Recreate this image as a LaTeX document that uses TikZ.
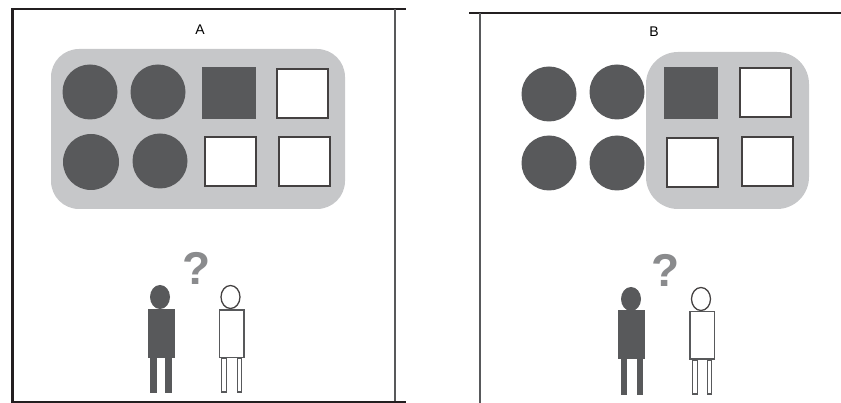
\documentclass[tikz,border=0pt]{standalone}
\usepackage{fontspec}
\setmainfont{Liberation Sans}
\usepackage{xcolor}
\definecolor{cDark}{HTML}{58595B}
\definecolor{cPanel}{HTML}{C6C7C9}
\definecolor{cAsk}{HTML}{8A8B8D}
\definecolor{cRule}{HTML}{231F20}
\usetikzlibrary{shapes.geometric}

\begin{document}
\begin{tikzpicture}[
  x=1pt,y=-1pt,
  font=\fontsize{14}{16}\selectfont,
  panelb/.style={fill=cPanel,rounded corners=#1,inner sep=0pt,outer sep=0pt},
  ball/.style={circle,fill=cDark,minimum size=55pt,inner sep=0pt,outer sep=0pt},
  tile/.style={rectangle,inner sep=0pt,outer sep=0pt,minimum width=#1},
  darkt/.style={tile=54pt,fill=cDark,minimum height=52pt},
  opent/.style={tile=51pt,fill=white,draw=cRule!85,line width=2pt,minimum height=49pt},
  headd/.style={ellipse,fill=cDark,minimum width=20pt,minimum height=24pt,inner sep=0pt,outer sep=0pt},
  heado/.style={ellipse,fill=white,draw=cRule!85,line width=1.3pt,minimum width=19pt,minimum height=23pt,inner sep=0pt,outer sep=0pt},
  bodyd/.style={tile=27pt,fill=cDark,minimum height=49pt},
  bodyo/.style={tile=24.5pt,fill=white,draw=cDark,line width=1.5pt,minimum height=47.5pt},
  legd/.style={tile=6.5pt,fill=cDark,minimum height=36pt},
  lego/.style={tile=4.5pt,fill=white,draw=cDark,line width=1.3pt,minimum height=34pt},
  ask/.style={font=\fontsize{46}{46}\selectfont\bfseries,text=cAsk,inner sep=0pt},
  frameline/.style={cRule,line width=2.2pt}]
\useasboundingbox (0,0) rectangle (841,403);
% left panel
\draw[frameline] (12.5,403) -- (12.5,9) -- (406,9);
\draw[frameline,cDark] (395,9) -- (395,402);
\draw[frameline] (12,402) -- (406,402);
\node (titleA) at (200,30) {A};
\node[panelb=28pt,minimum width=294pt,minimum height=160pt] (groupA) at (198,129) {};
\node[ball] (a1) at (90,92) {};
\node[ball] (a2) at (158,92) {};
\node[ball,minimum size=56pt] (a3) at (91,162) {};
\node[ball] (a4) at (160,161) {};
\node[darkt] (sa1) at (228.5,93) {};
\node[opent] (sa2) at (302.5,93.5) {};
\node[opent] (sa3) at (230.5,161.5) {};
\node[opent] (sa4) at (304.5,161.5) {};
\node[legd] (dla1) at (153.5,375) {};
\node[legd] (dla2) at (168.5,375) {};
\node[bodyd] (dbodyA) at (161.5,333.5) {};
\node[headd] (dheadA) at (160,297) {};
\node[lego] (ola1) at (224,375) {};
\node[lego] (ola2) at (239.5,375) {};
\node[bodyo] (obodyA) at (231.5,334) {};
\node[heado] (oheadA) at (230.5,297) {};
\node[ask] (askA) at (197,268.5) {?};
% right panel
\draw[frameline] (469,13) -- (841,13);
\draw[frameline,cDark] (480,13) -- (480,403);
\node (titleB) at (654,32) {B};
\node[panelb=32pt,minimum width=163pt,minimum height=157pt] (groupB) at (727.5,130.5) {};
\node[ball] (b1) at (549,94) {};
\node[ball] (b2) at (617,92) {};
\node[ball] (b3) at (549,163) {};
\node[ball] (b4) at (617,163) {};
\node[darkt] (sb1) at (691,93) {};
\node[opent] (sb2) at (765.5,93) {};
\node[opent] (sb3) at (692.5,162.5) {};
\node[opent] (sb4) at (767,161.5) {};
\node[legd] (dlb1) at (624,377) {};
\node[legd] (dlb2) at (640,377) {};
\node[bodyd] (dbodyB) at (631.5,335) {};
\node[headd] (dheadB) at (631,299) {};
\node[lego] (olb1) at (695,377) {};
\node[lego] (olb2) at (709.5,377) {};
\node[bodyo] (obodyB) at (702,335.5) {};
\node[heado] (oheadB) at (701,299) {};
\node[ask] (askB) at (666,270.5) {?};
\end{tikzpicture}
\end{document}
